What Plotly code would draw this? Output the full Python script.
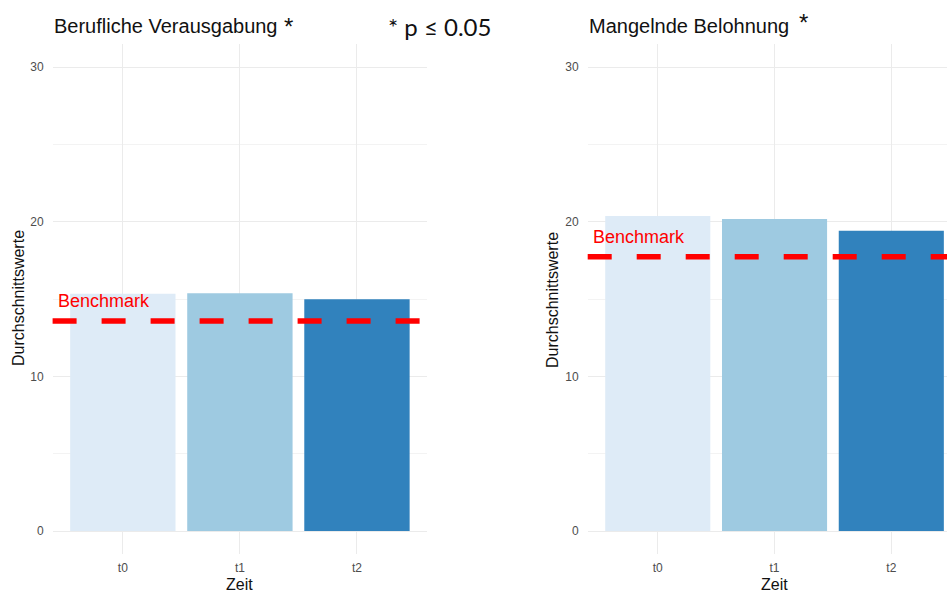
import plotly.graph_objects as go

# ---------------- data ----------------
categories = ["t0", "t1", "t2"]
verausgabung = [15.34, 15.37, 14.99]
belohnung = [20.36, 20.17, 19.41]
benchmark_verausgabung = 13.57
benchmark_belohnung = 17.73
bar_colors = ["#DEEBF7", "#9ECAE1", "#3182BD"]
y_ticks = [0, 10, 20, 30]
y_minor = [5, 15, 25]
title_left = "Berufliche Verausgabung"
title_right = "Mangelnde Belohnung"
sig_note = "* p ≤ 0.05"
bench_label = "Benchmark"
x_title = "Zeit"
y_title = "Durchschnittswerte"

# ---------------- layout helpers ----------------
W, H = 947, 593
FONT = "Liberation Sans, Arial, sans-serif"


def px(x):
    return x / W


def py(y):
    return 1 - y / H


fig = go.Figure()
for vals, xa, ya in [(verausgabung, "x", "y"), (belohnung, "x2", "y2")]:
    fig.add_trace(go.Bar(
        x=categories, y=vals, width=0.9,
        marker=dict(color=bar_colors, line=dict(width=0)),
        xaxis=xa, yaxis=ya, showlegend=False, hoverinfo="skip",
    ))

xcommon = dict(
    type="category", showgrid=True, gridcolor="#EBEBEB", gridwidth=1,
    zeroline=False, showline=False, ticks="", automargin=False,
    tickfont=dict(family=FONT, size=12, color="#4D4D4D"),
    ticklabelstandoff=5,
)
ycommon = dict(
    range=[-1.5, 31.5], tickvals=y_ticks, showgrid=True, gridcolor="#EBEBEB",
    gridwidth=1, zeroline=False, showline=False, ticks="", automargin=False,
    tickfont=dict(family=FONT, size=12, color="#4D4D4D"),
    ticklabelstandoff=8,
    minor=dict(tickvals=y_minor, showgrid=True, gridcolor="#F3F3F3", gridwidth=1),
    domain=[py(554.2), py(43.8)],
)

fig.update_layout(
    width=W, height=H,
    margin=dict(l=0, r=0, t=0, b=0),
    paper_bgcolor="white", plot_bgcolor="white",
    template="none",
    xaxis=dict(domain=[px(52.6), px(427.2)], range=[-0.6, 2.6], anchor="y", **xcommon),
    xaxis2=dict(domain=[px(587.7), 1.0], range=[-0.6, 2.477], anchor="y2", **xcommon),
    yaxis=dict(anchor="x", **ycommon),
    yaxis2=dict(anchor="x2", **ycommon),
)

# benchmark lines
for b, xr, yr in [(benchmark_verausgabung, "x domain", "y"), (benchmark_belohnung, "x2 domain", "y2")]:
    fig.add_shape(type="line", xref=xr, x0=0, x1=1, yref=yr, y0=b, y1=b,
                  line=dict(color="#FF0000", width=5.5, dash="24px,25px"), layer="above")
    fig.add_annotation(xref=xr.split()[0], yref=yr, x=-0.57, y=b, yshift=20,
                       text=bench_label, showarrow=False, xanchor="left", yanchor="middle",
                       font=dict(family=FONT, size=18, color="#FF0000"))

ann = []
# titles
ann.append(dict(x=px(52), y=py(26), text=title_left, xanchor="left", yanchor="middle",
                font=dict(family=FONT, size=20, color="#111111")))
ann.append(dict(x=px(587), y=py(26), text=title_right, xanchor="left", yanchor="middle",
                font=dict(family=FONT, size=20, color="#111111")))
ann.append(dict(x=px(282), y=py(26), text="*", xanchor="left", yanchor="middle",
                font=dict(family=FONT, size=24, color="#111111")))
ann.append(dict(x=px(797), y=py(22), text="*", xanchor="left", yanchor="middle",
                font=dict(family=FONT, size=24, color="#111111")))
ann.append(dict(x=px(386), y=py(26), text=sig_note, xanchor="left", yanchor="middle",
                font=dict(family="Lato, Open Sans, sans-serif", size=24, color="#111111")))
# y titles
ann.append(dict(x=px(18), y=py(298), text=y_title, textangle=-90, xanchor="center", yanchor="middle",
                font=dict(family=FONT, size=16, color="#111111")))
ann.append(dict(x=px(552), y=py(300), text=y_title, textangle=-90, xanchor="center", yanchor="middle",
                font=dict(family=FONT, size=16, color="#111111")))
for a in ann:
    a.update(xref="paper", yref="paper", showarrow=False)
    fig.add_annotation(**a)

# x titles (centered on middle category)
for xr in ["x", "x2"]:
    fig.add_annotation(xref=xr, yref="paper", x=1, y=py(584), text=x_title, showarrow=False,
                       xanchor="center", yanchor="middle",
                       font=dict(family=FONT, size=16, color="#111111"))

fig.write_html(
    "out.html",
    config={"displayModeBar": False},
    post_script="document.body.style.margin='0';document.body.style.overflow='hidden';",
)
